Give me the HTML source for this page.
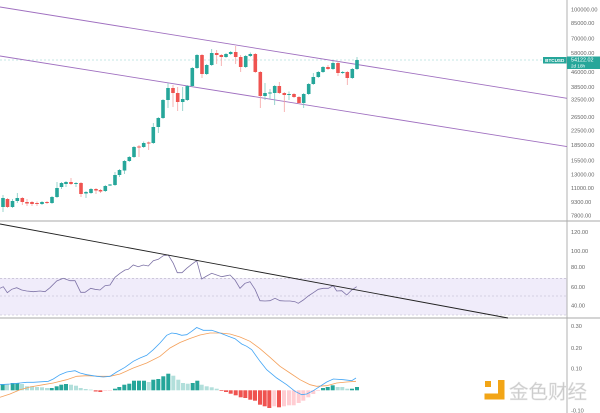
<!DOCTYPE html>
<html><head><meta charset="utf-8"><style>
html,body{margin:0;padding:0;background:#fff;}
svg{display:block;font-family:"Liberation Sans",sans-serif;}
.ax{font-size:5.6px;fill:#666;}
</style></head><body>
<svg width="600" height="413" viewBox="0 0 600 413" xmlns="http://www.w3.org/2000/svg">
<rect width="600" height="413" fill="#fff"/>
<!-- RSI band -->
<rect x="0" y="278" width="567" height="37" fill="#f0ecfa"/>
<line x1="0" y1="278.3" x2="567" y2="278.3" stroke="#b8b3c8" stroke-width="0.6" stroke-dasharray="2,2"/>
<line x1="0" y1="296" x2="567" y2="296" stroke="#b8b3c8" stroke-width="0.6" stroke-dasharray="2,2"/>
<line x1="0" y1="315" x2="567" y2="315" stroke="#b8b3c8" stroke-width="0.6" stroke-dasharray="2,2"/>
<!-- separators -->
<line x1="0" y1="221" x2="600" y2="221" stroke="#aaa" stroke-width="0.9"/>
<line x1="0" y1="318" x2="600" y2="318" stroke="#aaa" stroke-width="0.9"/>
<line x1="567" y1="0" x2="567" y2="413" stroke="#aaa" stroke-width="0.9"/>
<!-- price dashed line -->
<line x1="0" y1="60" x2="543" y2="60" stroke="#b2dfdb" stroke-width="0.7" stroke-dasharray="2,2"/>
<!-- channel lines -->
<line x1="0" y1="7" x2="567" y2="98.3" stroke="#a070c0" stroke-width="0.9"/>
<line x1="0" y1="56" x2="567" y2="146.6" stroke="#a070c0" stroke-width="0.9"/>
<g id="candles"></g>
<!-- RSI line -->
<polyline fill="none" stroke="#7d72a6" stroke-width="0.8" points="0,288.3 3.3,286.7 7.3,292.7 11.7,289.3 16.7,287.7 21.7,290 26.7,291 33.3,291.7 40,291 45,291.7 50,287.7 56.7,281 63.3,278.3 70,280.7 75,280.7 80.7,292.3 85,292.3 90.7,288.3 95,289.3 100,290 105,285.7 110,285 115,277.3 120,273.3 125,270 128.3,269.3 133.3,265 138.3,266.7 143.3,265 148.3,266 153.3,260.7 158.3,259.3 163.3,255.7 168.3,255 173.3,263.3 177.3,272.7 182,272.7 186.7,268.3 191.7,264.3 196.7,260.7 201.7,279 206.7,276 211.7,273.3 216.7,275 221.7,276.7 226.7,275.7 230,275 235,280 240,288.3 245,283.3 250,281.7 255,289.3 260,300.7 265,301 270,300.7 275,298.3 280,300.7 285,301 290,301 295,301.7 298.3,303.3 303.3,300 308.3,296 313.3,292.7 318.3,289.3 323.3,288.3 328.3,288.3 333.3,285.7 336.7,291 341.7,290.7 346.7,295 351.7,290 356.7,286.7"/>
<line x1="0" y1="224" x2="508" y2="318" stroke="#222" stroke-width="0.9"/>
<!-- MACD hist -->
<g id="hist"></g>
<polyline fill="none" stroke="#f4a05a" stroke-width="0.8" points="0,397.3 10,394 20,389.7 30,387 43.3,384.7 53.3,383 66.7,379.7 76.7,376.3 86.7,375.7 100,376.3 110,376.3 120,374 133.3,368 146.7,363 160,356.3 170,348 180,342.5 190,338.5 200,335 210,333 220,333 230,334 240,337 250,341.3 260,348.7 270,357.3 280,366.3 290,373 300,379.7 310,384.7 316.7,386.3 326.7,385.7 336.7,383 346.7,382 356,381.3"/>
<polyline fill="none" stroke="#42a5f5" stroke-width="0.8" points="0,384.7 10,384 20,383 26.7,382.3 33.3,382.3 48.3,381.3 53.3,379 60,374.7 66.7,372 75,370.7 80,373 86.7,374.7 96.7,376.3 103.3,377 110,376.3 116.7,372 125,367.3 133.3,361.3 140,358 146.7,355.3 153.3,349.7 160,343 166.7,335.3 171.7,333 176.7,333.7 181.7,335.3 186.7,334.7 191.7,331.3 196.7,327.5 203.3,330.3 211.7,330.3 220,333 228.3,336.3 235,338.7 241.7,344 246.7,346.3 251.7,349.7 260,361.3 266.7,369.7 276.7,378 286.7,384.7 295,391.3 301.7,394.7 306.7,394 313.3,390.7 320,386.3 326.7,382 333.3,379 343.3,379.7 351.7,380.7 356,378"/>
<!-- price tag -->
<rect x="543" y="57" width="23.5" height="6.5" fill="#26a69a"/>
<text x="554.7" y="61.9" font-size="4.6" font-weight="bold" fill="#fff" text-anchor="middle">BTCUSD</text>
<rect x="567" y="56.5" width="33" height="12.5" fill="#26a69a"/>
<text x="571" y="61.5" font-size="5.4" fill="#fff">54122.02</text>
<text x="571" y="67.3" font-size="4.6" fill="#fff">2d 18h</text>
<!-- axis labels -->
<g class="ax" dominant-baseline="middle">
<text x="571" y="10">100000.00</text>
<text x="571" y="23.3">85000.00</text>
<text x="571" y="39">70000.00</text>
<text x="571" y="53.3">58000.00</text>
<text x="571" y="72.7">46000.00</text>
<text x="571" y="87.3">38500.00</text>
<text x="571" y="100">32500.00</text>
<text x="571" y="117.3">26500.00</text>
<text x="571" y="131">22500.00</text>
<text x="571" y="145.7">18500.00</text>
<text x="571" y="161">15500.00</text>
<text x="571" y="175">13000.00</text>
<text x="571" y="188.3">11000.00</text>
<text x="571" y="202.3">9300.00</text>
<text x="571" y="216">7800.00</text>
<text x="571" y="232.7">120.00</text>
<text x="571" y="251.7">100.00</text>
<text x="571" y="267.3">80.00</text>
<text x="571" y="287.3">60.00</text>
<text x="571" y="306">40.00</text>
<text x="571" y="326.7">0.30</text>
<text x="571" y="348.3">0.20</text>
<text x="571" y="369">0.10</text>
<text x="571" y="411">-0.10</text>
</g>
<!-- watermark -->
<g>
<rect x="485" y="381" width="6" height="6" fill="#f2a516"/>
<path d="M498,380 h6.5 v19.5 h-20 v-6 h13.5 z" fill="#f2a516"/>
<text x="509" y="398.5" font-size="19.5" fill="#c9c9c9" stroke="#e6e6e6" stroke-width="0.5" font-family="'Liberation Sans','Noto Sans CJK SC',sans-serif">金色财经</text>
</g>
<script>
(function(){
var NS="http://www.w3.org/2000/svg";
var C=[[3,198,207,195,212,'g'],[7.5,199,207,198,208,'r'],[12.5,201,207,199,208,'g'],[17.3,198,201,193,203,'g'],[22.3,198,202,197,205,'r'],[27,202,203.5,199,206,'r'],[32,202,204,201,206,'r'],[37,203,204,201.5,206,'r'],[42,202,204,201,205,'g'],[47,202,203,201,204,'r'],[52,197,203,196,204,'g'],[57,188,197,182,198,'g'],[61.5,183,187,182,189,'g'],[66,182,184,181,187,'g'],[71,182,184,178,185,'r'],[76,183,184,182,187,'g'],[81,183,194,182,197,'r'],[86,192,193.5,191,198,'g'],[91,189,193,188,194,'g'],[96,189,190.5,188,194,'r'],[100.5,190,191.5,189,193,'r'],[105.3,186,191,185,192,'g'],[110,184.5,185.5,184,186,'g'],[115,175,185,172,186,'g'],[119.5,170,175,169,177,'g'],[124.5,161,170.5,160,174,'g'],[129.3,157,161,156,162,'g'],[134,147,157,146,158,'g'],[139,146.5,147.5,145,157,'r'],[143.7,143,147,141.5,148,'g'],[148.7,142.5,143.5,141.5,150,'r'],[153.3,127,143,123,144,'g'],[158.3,118,127,117,133,'g'],[163,100,118,99,119,'g'],[168,88,100,83,108,'g'],[173,88,93,85,107,'r'],[177.7,93,102,87,111,'r'],[182.7,99,102,87,111,'g'],[187.3,86,100,85,101,'g'],[192.3,68,86,67,87,'g'],[197,55,68,54,69,'g'],[202,55,74,54,78,'r'],[206.7,65,74,64,75,'g'],[211.7,53,65,49,66,'g'],[216.7,53,55,50,64,'r'],[221.3,55,57,54,66,'r'],[226,54,57,53,58,'g'],[230.7,52,54,51,55,'g'],[235.7,52,57,46,64,'r'],[240.7,57,67,55,72,'r'],[245.7,56,67,55,68,'g'],[250.3,54,56,52.5,57,'g'],[255.3,54,72,53,73,'r'],[260.3,72,96,71,108,'r'],[265,93,96,83,100,'g'],[270,92.5,93.5,89,99,'g'],[274.7,86,93,85,105,'g'],[279.3,86,93,82,94,'r'],[284.3,93,95,92,112,'r'],[289,94,95,91.5,100,'g'],[294,94,97,93,98,'r'],[299,97,103,96,104,'r'],[303.7,94,103,93,108,'g'],[308.7,84,94,83,95,'g'],[313.3,77,84,73,85,'g'],[318.3,72,77,71,78,'g'],[323,67,72,66,73,'g'],[328,67,69,65,70,'r'],[333,63,69,61,70,'g'],[338,63,73,61,76,'r'],[342.7,72,73,71,74,'g'],[347.3,72,78,71,85,'r'],[352.3,69,78,68,79,'g'],[357,60,69,57,70,'g']];
var g=document.getElementById('candles');
C.forEach(function(c){
 var col=c[5]=='g'?'#26a69a':'#ef5350';
 var w=document.createElementNS(NS,'line');
 w.setAttribute('x1',c[0]);w.setAttribute('x2',c[0]);w.setAttribute('y1',c[3]);w.setAttribute('y2',c[4]);
 w.setAttribute('stroke',c[5]=='g'?'#7fcac2':'#f4a3a1');w.setAttribute('stroke-width','0.8');g.appendChild(w);
 var r=document.createElementNS(NS,'rect');
 var h=Math.max(c[2]-c[1],1);
 r.setAttribute('x',c[0]-1.8);r.setAttribute('y',c[1]);r.setAttribute('width',3.6);r.setAttribute('height',h);
 r.setAttribute('fill',col);g.appendChild(r);
});
// histogram: x, top(y), type  (zero at 390.3)
var Z=390.3;
var H=[[2.7,384,'G'],[7,384,'L'],[12.7,383,'G'],[17.3,383,'G'],[22,384,'L'],[27,386.3,'L'],[32,386.3,'L'],[37,387,'L'],[42,387.3,'L'],[47,388,'L'],[51.7,388,'G'],[56.7,386.3,'G'],[61.3,384.7,'G'],[66,384,'G'],[71,384.7,'L'],[76,385.7,'L'],[80.7,388,'L'],[85.7,389,'L'],[90.7,389.6,'L'],[95.7,391.5,'R'],[100.3,392,'R'],[105.3,391,'P'],[110,390.8,'P'],[115,388.7,'G'],[119.3,387,'G'],[124.3,384.7,'G'],[129.3,383.7,'G'],[134,380.7,'G'],[139,380.7,'G'],[144,380.7,'G'],[148.7,382,'L'],[153.3,379.7,'G'],[158.3,379,'G'],[163.3,376.3,'G'],[168.3,373.7,'G'],[173.3,375.7,'L'],[178.3,379.7,'L'],[183,383,'L'],[187.7,383.7,'L'],[192.7,383,'G'],[197.3,380.7,'G'],[201.7,384.7,'L'],[206.7,386.3,'L'],[211.7,387.3,'L'],[216.7,388.7,'L'],[221.5,391,'R'],[226,392,'R'],[230.7,393.7,'R'],[235.7,395.3,'R'],[240.7,397.3,'R'],[245.3,398,'R'],[250.3,399.7,'R'],[255,400.7,'R'],[260,404.7,'R'],[264.7,406.3,'R'],[269.3,408,'R'],[274.3,406.3,'P'],[279,407.3,'R'],[284,406.3,'P'],[289,405.3,'P'],[293.7,405.3,'P'],[298.7,403,'P'],[303.3,400.7,'P'],[308.3,397.3,'P'],[313.3,394,'P'],[318,391,'P'],[323,388,'G'],[327.7,387,'G'],[332.7,385.3,'G'],[337.7,387,'L'],[342.3,387,'L'],[347.3,388.7,'L'],[352,388.7,'G'],[357,387,'G']];
var cols={G:'#26a69a',L:'#b2dfdb',R:'#ef5350',P:'#ffcdd2'};
var hg=document.getElementById('hist');
H.forEach(function(b){
 var r=document.createElementNS(NS,'rect');
 var y1=Math.min(b[1],Z),y2=Math.max(b[1],Z);
 r.setAttribute('x',b[0]-2);r.setAttribute('y',y1);r.setAttribute('width',4);r.setAttribute('height',Math.max(y2-y1,0.6));
 r.setAttribute('fill',cols[b[2]]);hg.appendChild(r);
});
})();
</script>
</svg>
</body></html>
